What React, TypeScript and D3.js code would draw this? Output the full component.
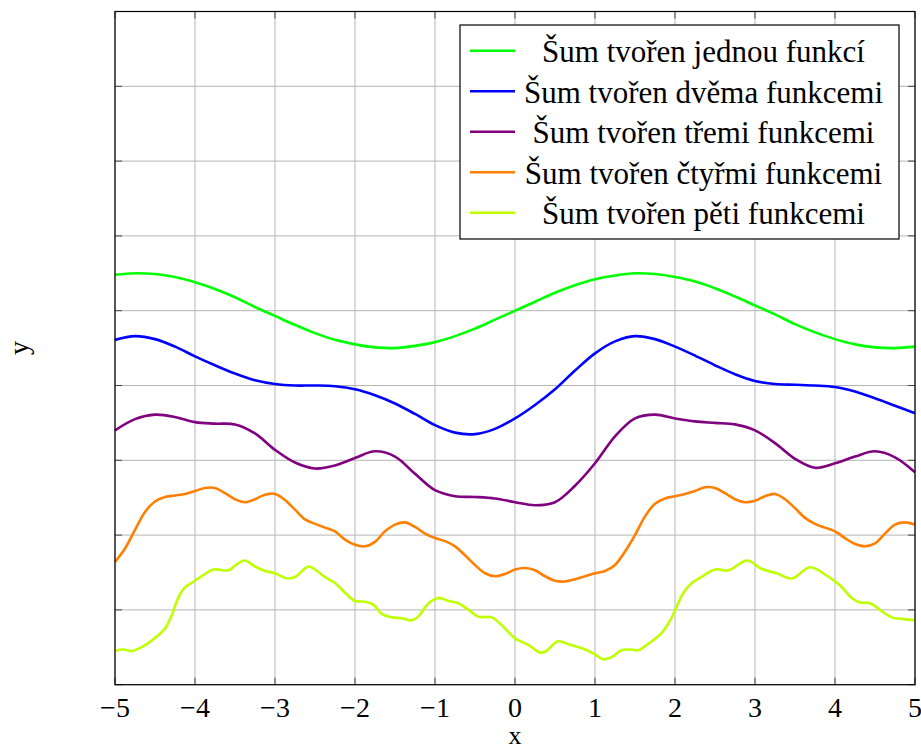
import React from "react";
import * as d3 from "d3";

// x grid shared by the three smoother curves (step 0.25)
const xQuarter = [
  -5, -4.75, -4.5, -4.25, -4, -3.75, -3.5, -3.25, -3, -2.75, -2.5, -2.25, -2, -1.75, -1.5, -1.25, -1, -0.75,
  -0.5, -0.25, 0, 0.25, 0.5, 0.75, 1, 1.25, 1.5, 1.75, 2, 2.25, 2.5, 2.75, 3, 3.25, 3.5, 3.75, 4, 4.25, 4.5,
  4.75, 5,
];

const greenY = [
  5.48, 5.5, 5.49, 5.45, 5.38, 5.29, 5.18, 5.05, 4.93, 4.81, 4.7, 4.61, 4.55, 4.51, 4.5, 4.53, 4.58, 4.66, 4.76,
  4.88, 5.0, 5.12, 5.24, 5.34, 5.42, 5.47, 5.5, 5.49, 5.45, 5.39, 5.3, 5.19, 5.07, 4.95, 4.82, 4.71, 4.62, 4.55,
  4.51, 4.5, 4.52,
];

const blueY = [
  4.61, 4.66, 4.62, 4.52, 4.39, 4.27, 4.16, 4.07, 4.02, 4.0, 4.0, 3.99, 3.95, 3.87, 3.76, 3.62, 3.47, 3.37, 3.35,
  3.42, 3.56, 3.74, 3.95, 4.2, 4.43, 4.59, 4.66, 4.62, 4.52, 4.4, 4.27, 4.15, 4.06, 4.02, 4.01, 4.0, 3.98, 3.92,
  3.83, 3.73, 3.63,
];

const purpleY = [
  3.4, 3.55, 3.61, 3.58, 3.51, 3.49, 3.48, 3.36, 3.14, 2.97, 2.89, 2.93, 3.03, 3.12, 3.05, 2.82, 2.6, 2.52, 2.51,
  2.49, 2.44, 2.4, 2.44, 2.66, 2.96, 3.32, 3.56, 3.61, 3.56, 3.52, 3.5, 3.48, 3.4, 3.23, 3.02, 2.9, 2.96, 3.05,
  3.12, 3.04, 2.84,
];

// orange is sampled every 0.125
const xEighth = d3.range(81).map((i) => -5 + i * 0.125);
const orangeY = [
  1.64, 1.82, 2.07, 2.31, 2.45, 2.51, 2.53, 2.55, 2.59, 2.63, 2.63, 2.56, 2.48, 2.44, 2.48, 2.54, 2.55, 2.47, 2.34,
  2.21, 2.15, 2.1, 2.05, 1.94, 1.87, 1.85, 1.91, 2.05, 2.14, 2.17, 2.11, 2.02, 1.96, 1.92, 1.85, 1.73, 1.6, 1.49,
  1.45, 1.48, 1.54, 1.56, 1.53, 1.45, 1.39, 1.38, 1.41, 1.45, 1.49, 1.52, 1.6, 1.78, 2.0, 2.25, 2.42, 2.49, 2.52,
  2.55, 2.59, 2.64, 2.63, 2.56, 2.48, 2.44, 2.46, 2.52, 2.55, 2.48, 2.36, 2.23, 2.15, 2.1, 2.05, 1.96, 1.88, 1.85,
  1.89, 2.02, 2.14, 2.17, 2.14,
];

// lime read at its wiggles
const limePts: [number, number][] = [
  [-5, 0.455], [-4.9, 0.47], [-4.79, 0.45], [-4.69, 0.49], [-4.58, 0.56], [-4.46, 0.66], [-4.375, 0.75],
  [-4.29, 0.93], [-4.21, 1.16], [-4.125, 1.3], [-4, 1.39], [-3.875, 1.48], [-3.77, 1.54], [-3.58, 1.53],
  [-3.5, 1.59], [-3.38, 1.66], [-3.25, 1.58], [-3.125, 1.52], [-3, 1.49], [-2.85, 1.42], [-2.75, 1.44],
  [-2.58, 1.58], [-2.5, 1.54], [-2.375, 1.44], [-2.25, 1.36], [-2.125, 1.23], [-2, 1.12], [-1.875, 1.11],
  [-1.77, 1.07], [-1.67, 0.95], [-1.54, 0.9], [-1.42, 0.89], [-1.29, 0.86], [-1.21, 0.91], [-1.08, 1.09],
  [-0.96, 1.16], [-0.83, 1.12], [-0.71, 1.09], [-0.58, 1.0], [-0.46, 0.91], [-0.29, 0.9], [-0.17, 0.8],
  [0, 0.62], [0.17, 0.53], [0.31, 0.43], [0.375, 0.44], [0.54, 0.58], [0.67, 0.54], [0.83, 0.49], [0.98, 0.42],
  [1.1, 0.34], [1.21, 0.37], [1.33, 0.46], [1.44, 0.47], [1.54, 0.46], [1.67, 0.55], [1.83, 0.69], [1.94, 0.86],
  [2.02, 1.04], [2.1, 1.22], [2.21, 1.36], [2.33, 1.44], [2.5, 1.54], [2.67, 1.53], [2.9, 1.66], [3.08, 1.55],
  [3.27, 1.49], [3.46, 1.42], [3.69, 1.57], [3.92, 1.44], [4.06, 1.33], [4.21, 1.16], [4.31, 1.1], [4.44, 1.09],
  [4.56, 1.0], [4.71, 0.9], [4.83, 0.88], [5, 0.86],
];

const labels = [
  "Šum tvořen jednou funkcí",
  "Šum tvořen dvěma funkcemi",
  "Šum tvořen třemi funkcemi",
  "Šum tvořen čtyřmi funkcemi",
  "Šum tvořen pěti funkcemi",
];
const colors = ["#00ff00", "#0000ff", "#800080", "#ff8000", "#bfff00"];

const xTicks = [-5, -4, -3, -2, -1, 0, 1, 2, 3, 4, 5];
const yTicks = [0, 1, 2, 3, 4, 5, 6, 7, 8, 9];

const W = 921;
const H = 749;
const margin = { top: 11.5, right: 6, bottom: 64.3, left: 115 };
const font = "Liberation Serif, DejaVu Serif, serif";

export default function App() {
  const x = d3.scaleLinear().domain([-5, 5]).range([margin.left, W - margin.right]);
  const y = d3.scaleLinear().domain([0, 9]).range([H - margin.bottom, margin.top]);

  const series: [number, number][][] = [
    xQuarter.map((v, i) => [v, greenY[i]]),
    xQuarter.map((v, i) => [v, blueY[i]]),
    xQuarter.map((v, i) => [v, purpleY[i]]),
    xEighth.map((v, i) => [v, orangeY[i]]),
    limePts,
  ];

  const line = d3
    .line<[number, number]>()
    .x((d) => x(d[0]))
    .y((d) => y(d[1]))
    .curve(d3.curveCatmullRom.alpha(0.5));

  const x0 = x(-5);
  const x1 = x(5);
  const y0 = y(0);
  const y1 = y(9);
  const tick = 7;

  // legend geometry
  const lg = { left: 460, top: 25, width: 439, height: 214 };
  const rowY = (i: number) => 50.7 + i * 40.5;

  return (
    <svg width={W} height={H} style={{ position: "absolute", left: 0, top: 0, background: "#fff" }}>
      <g>
        {xTicks.map((t) => (
          <line key={"gx" + t} x1={x(t)} x2={x(t)} y1={y0} y2={y1} stroke="#b5b5b5" strokeWidth={1} />
        ))}
        {yTicks.map((t) => (
          <line key={"gy" + t} x1={x0} x2={x1} y1={y(t)} y2={y(t)} stroke="#b5b5b5" strokeWidth={1} />
        ))}
        {xTicks.map((t) => (
          <g key={"tx" + t}>
            <line x1={x(t)} x2={x(t)} y1={y0} y2={y0 - tick} stroke="#444" />
            <line x1={x(t)} x2={x(t)} y1={y1} y2={y1 + tick} stroke="#444" />
          </g>
        ))}
        {yTicks.map((t) => (
          <g key={"ty" + t}>
            <line x1={x0} x2={x0 + tick} y1={y(t)} y2={y(t)} stroke="#444" />
            <line x1={x1} x2={x1 - tick} y1={y(t)} y2={y(t)} stroke="#444" />
          </g>
        ))}
      </g>
      <g>
        {series.map((s, i) => (
          <path key={i} d={line(s) || ""} fill="none" stroke={colors[i]} strokeWidth={2.6} strokeLinejoin="round" />
        ))}
      </g>
      <rect x={x0} y={y1} width={x1 - x0} height={y0 - y1} fill="none" stroke="#000" strokeWidth={1.2} />
      <g style={{ fontFamily: font }}>
        {xTicks.map((t) => (
          <text key={"lx" + t} x={x(t)} y={717} textAnchor="middle" fontSize={28}>
            {t < 0 ? "\u2212" + Math.abs(t) : String(t)}
          </text>
        ))}
        <text x={x(0)} y={744} textAnchor="middle" fontSize={26}>
          x
        </text>
        <text transform={`translate(28,${(y0 + y1) / 2}) rotate(-90)`} textAnchor="middle" fontSize={28}>
          y
        </text>
      </g>
      <g style={{ fontFamily: font }}>
        <rect x={lg.left} y={lg.top} width={lg.width} height={lg.height} fill="#fff" stroke="#000" strokeWidth={1.2} />
        {labels.map((l, i) => (
          <g key={l}>
            <line x1={470} x2={515} y1={rowY(i)} y2={rowY(i)} stroke={colors[i]} strokeWidth={2.6} />
            <text x={703.5} y={rowY(i) + 11.6} textAnchor="middle" fontSize={31}>
              {l}
            </text>
          </g>
        ))}
      </g>
    </svg>
  );
}
